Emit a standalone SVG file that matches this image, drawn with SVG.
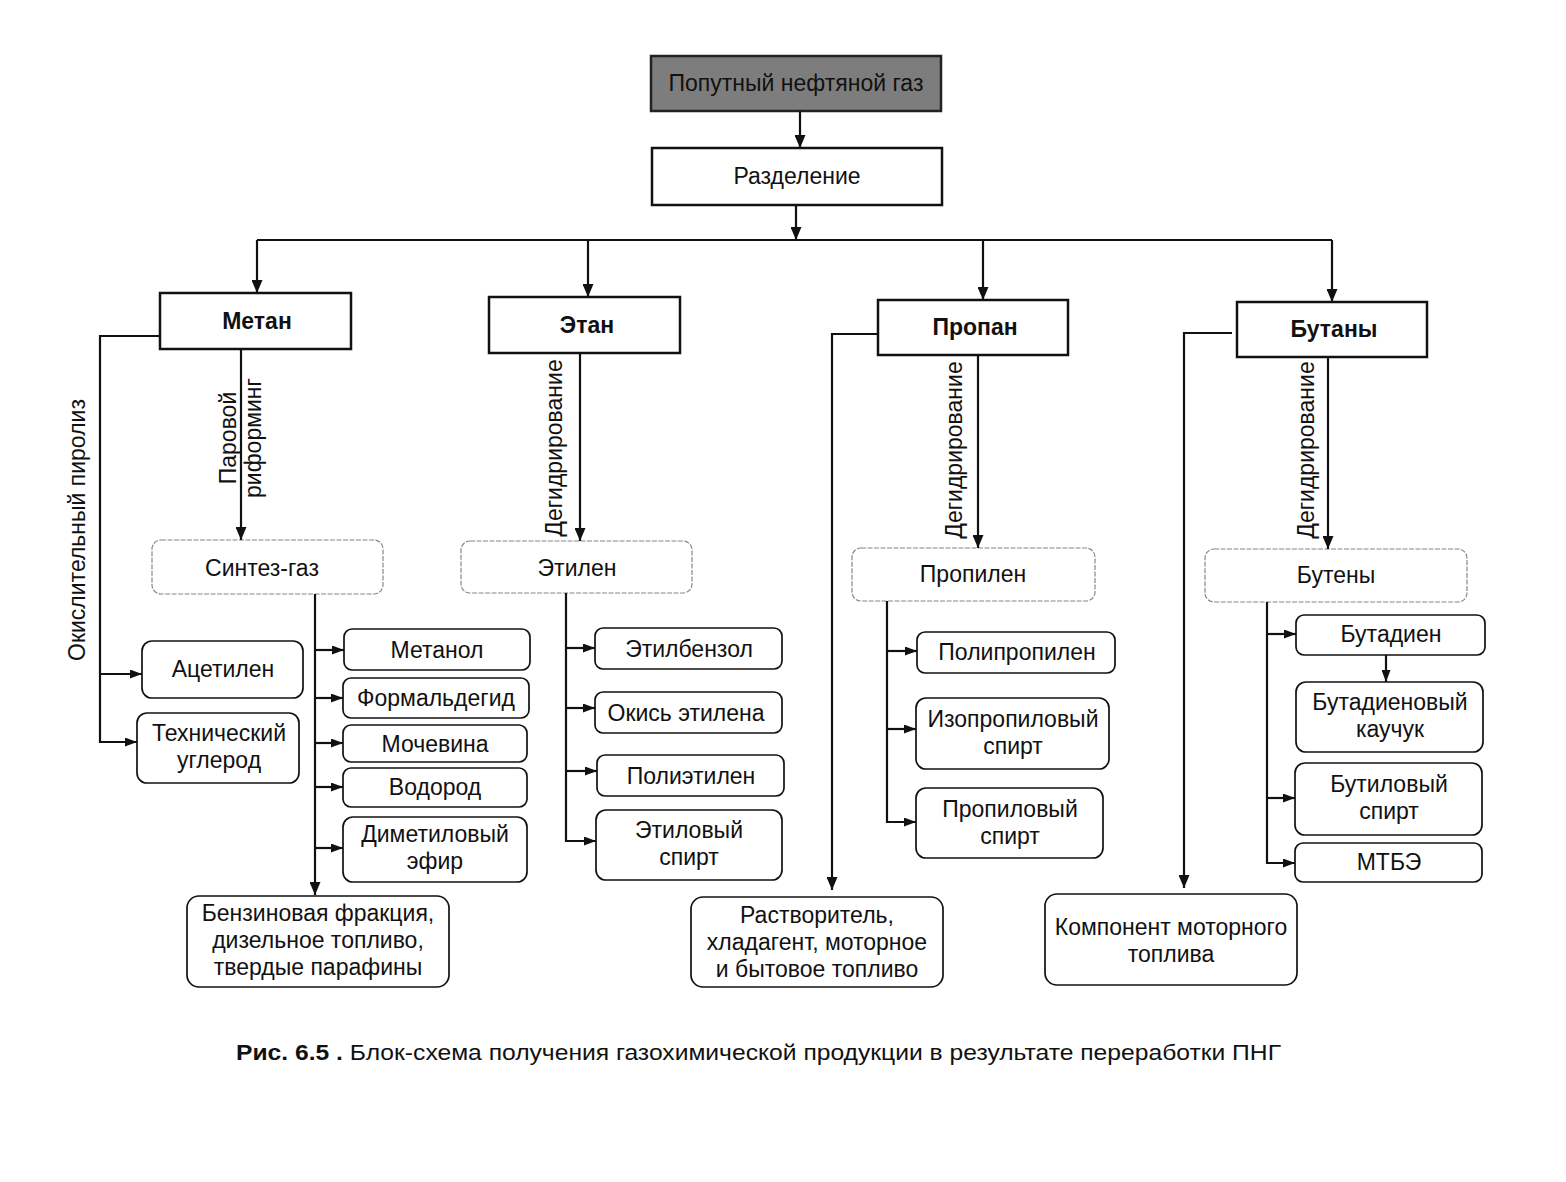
<svg xmlns="http://www.w3.org/2000/svg" width="1566" height="1182" viewBox="0 0 1566 1182">
<defs>
<marker id="ah" markerUnits="userSpaceOnUse" markerWidth="13" markerHeight="11" refX="13" refY="5.5" orient="auto">
<path d="M0,0 L13,5.5 L0,11 z" fill="#111"/>
</marker>
<marker id="ahs" markerUnits="userSpaceOnUse" markerWidth="12" markerHeight="9" refX="12" refY="4.5" orient="auto">
<path d="M0,0 L12,4.5 L0,9 z" fill="#111"/>
</marker>
<style>
text{font-family:"Liberation Sans",Arial,sans-serif;font-size:23px;fill:#111;text-anchor:middle}
.b{font-weight:bold}
.main{fill:#fff;stroke:#111;stroke-width:2.5}
.top{fill:#7d7d7d;stroke:#222;stroke-width:2.5}
.sec{fill:#fff;stroke:#888;stroke-width:1.2;stroke-dasharray:5 1.5}
.ch{fill:#fff;stroke:#111;stroke-width:1.7}
.c path{fill:none;stroke:#111;stroke-width:2.2}
.cap{text-anchor:start;font-size:22px}
</style>
</defs>
<rect width="1566" height="1182" fill="#fff"/>

<g id="n-png"><rect class="top" x="651" y="56" width="290" height="55"/><text x="796" y="91">Попутный нефтяной газ</text></g>
<g id="n-razd"><rect class="main" x="652" y="148" width="290" height="57"/><text x="797" y="184">Разделение</text></g>

<g id="n-metan"><rect class="main" x="160" y="293" width="191" height="56"/><text class="b" x="257" y="329">Метан</text></g>
<g id="n-etan"><rect class="main" x="489" y="297" width="191" height="56"/><text class="b" x="587" y="333">Этан</text></g>
<g id="n-propan"><rect class="main" x="878" y="300" width="190" height="55"/><text class="b" x="975" y="335">Пропан</text></g>
<g id="n-butany"><rect class="main" x="1237" y="302" width="190" height="55"/><text class="b" x="1334" y="337">Бутаны</text></g>

<g id="n-sintez"><rect class="sec" x="152" y="540" width="231" height="54" rx="9"/><text x="262" y="576">Синтез-газ</text></g>
<g id="n-etilen"><rect class="sec" x="461" y="541" width="231" height="52" rx="9"/><text x="577" y="576">Этилен</text></g>
<g id="n-propilen"><rect class="sec" x="852" y="548" width="243" height="53" rx="9"/><text x="973" y="582">Пропилен</text></g>
<g id="n-buteny"><rect class="sec" x="1205" y="549" width="262" height="53" rx="9"/><text x="1336" y="583">Бутены</text></g>

<g id="n-acetilen"><rect class="ch" x="142" y="641" width="161" height="57" rx="10"/><text x="223" y="677">Ацетилен</text></g>
<g id="n-tehugl"><rect class="ch" x="137" y="713" width="162" height="70" rx="10"/><text x="219" y="741">Технический</text><text x="219" y="768">углерод</text></g>
<g id="n-metanol"><rect class="ch" x="344" y="629" width="186" height="41" rx="8"/><text x="437" y="658">Метанол</text></g>
<g id="n-formald"><rect class="ch" x="343" y="678" width="186" height="40" rx="8"/><text x="436" y="706">Формальдегид</text></g>
<g id="n-mochevina"><rect class="ch" x="343" y="725" width="184" height="37" rx="8"/><text x="435" y="752">Мочевина</text></g>
<g id="n-vodorod"><rect class="ch" x="343" y="768" width="184" height="39" rx="8"/><text x="435" y="795">Водород</text></g>
<g id="n-dme"><rect class="ch" x="343" y="817" width="184" height="65" rx="10"/><text x="435" y="842">Диметиловый</text><text x="435" y="869">эфир</text></g>
<g id="n-benzin"><rect class="ch" x="187" y="896" width="262" height="91" rx="12"/><text x="318" y="921">Бензиновая фракция,</text><text x="318" y="948">дизельное топливо,</text><text x="318" y="975">твердые парафины</text></g>

<g id="n-etilbenzol"><rect class="ch" x="595" y="628" width="187" height="41" rx="8"/><text x="689" y="657">Этилбензол</text></g>
<g id="n-okis"><rect class="ch" x="595" y="692" width="187" height="41" rx="8"/><text x="686" y="721">Окись этилена</text></g>
<g id="n-polietilen"><rect class="ch" x="597" y="755" width="187" height="41" rx="8"/><text x="691" y="784">Полиэтилен</text></g>
<g id="n-etilspirt"><rect class="ch" x="596" y="810" width="186" height="70" rx="10"/><text x="689" y="838">Этиловый</text><text x="689" y="865">спирт</text></g>

<g id="n-polipropilen"><rect class="ch" x="917" y="632" width="198" height="41" rx="8"/><text x="1017" y="660">Полипропилен</text></g>
<g id="n-izoprop"><rect class="ch" x="916" y="698" width="193" height="71" rx="10"/><text x="1013" y="727">Изопропиловый</text><text x="1013" y="754">спирт</text></g>
<g id="n-propspirt"><rect class="ch" x="916" y="788" width="187" height="70" rx="10"/><text x="1010" y="817">Пропиловый</text><text x="1010" y="844">спирт</text></g>
<g id="n-rastv"><rect class="ch" x="691" y="897" width="252" height="90" rx="12"/><text x="817" y="923">Растворитель,</text><text x="817" y="950">хладагент, моторное</text><text x="817" y="977">и бытовое топливо</text></g>

<g id="n-butadien"><rect class="ch" x="1296" y="615" width="189" height="40" rx="8"/><text x="1391" y="642">Бутадиен</text></g>
<g id="n-kauchuk"><rect class="ch" x="1296" y="682" width="187" height="70" rx="10"/><text x="1390" y="710">Бутадиеновый</text><text x="1390" y="737">каучук</text></g>
<g id="n-butspirt"><rect class="ch" x="1295" y="763" width="187" height="72" rx="10"/><text x="1389" y="792">Бутиловый</text><text x="1389" y="819">спирт</text></g>
<g id="n-mtbe"><rect class="ch" x="1295" y="843" width="187" height="39" rx="8"/><text x="1389" y="870">МТБЭ</text></g>
<g id="n-komponent"><rect class="ch" x="1045" y="894" width="252" height="91" rx="12"/><text x="1171" y="935">Компонент моторного</text><text x="1171" y="962">топлива</text></g>

<g class="c" id="connectors">
<path d="M800,111 V148" marker-end="url(#ah)"/>
<path d="M796,205 V240" marker-end="url(#ah)"/>
<path d="M257,240 H1332"/>
<path d="M257,240 V293" marker-end="url(#ah)"/>
<path d="M588,240 V297" marker-end="url(#ah)"/>
<path d="M983,240 V300" marker-end="url(#ah)"/>
<path d="M1332,240 V302" marker-end="url(#ah)"/>

<path d="M160,336 H100 V742 H137" marker-end="url(#ahs)"/>
<path d="M100,674 H142" marker-end="url(#ahs)"/>
<path d="M241,349 V540" marker-end="url(#ah)"/>
<path d="M315,594 V895" marker-end="url(#ah)"/>
<path d="M315,650 H344" marker-end="url(#ahs)"/>
<path d="M315,698 H343" marker-end="url(#ahs)"/>
<path d="M315,743 H343" marker-end="url(#ahs)"/>
<path d="M315,787 H343" marker-end="url(#ahs)"/>
<path d="M315,848 H343" marker-end="url(#ahs)"/>

<path d="M580,353 V541" marker-end="url(#ah)"/>
<path d="M566,593 V841 H596" marker-end="url(#ahs)"/>
<path d="M566,648 H595" marker-end="url(#ahs)"/>
<path d="M566,708 H595" marker-end="url(#ahs)"/>
<path d="M566,771 H597" marker-end="url(#ahs)"/>

<path d="M878,334 H832 V890" marker-end="url(#ah)"/>
<path d="M978,355 V548" marker-end="url(#ah)"/>
<path d="M887,601 V822 H916" marker-end="url(#ahs)"/>
<path d="M887,651 H917" marker-end="url(#ahs)"/>
<path d="M887,729 H916" marker-end="url(#ahs)"/>

<path d="M1232,333 H1184 V888" marker-end="url(#ah)"/>
<path d="M1328,357 V549" marker-end="url(#ah)"/>
<path d="M1267,602 V863 H1295" marker-end="url(#ahs)"/>
<path d="M1267,634 H1296" marker-end="url(#ahs)"/>
<path d="M1267,798 H1295" marker-end="url(#ahs)"/>
<path d="M1386,655 V682" marker-end="url(#ahs)"/>
</g>

<g id="labels">
<text transform="translate(85,530) rotate(-90)">Окислительный пиролиз</text>
<text transform="translate(236,438) rotate(-90)">Паровой</text>
<text transform="translate(261,438) rotate(-90)">риформинг</text>
<text transform="translate(562,448) rotate(-90)">Дегидрирование</text>
<text transform="translate(962,450) rotate(-90)">Дегидрирование</text>
<text transform="translate(1314,450) rotate(-90)">Дегидрирование</text>
</g>

<text class="cap" x="236" y="1060" textLength="1045" lengthAdjust="spacingAndGlyphs"><tspan class="b">Рис. 6.5 .</tspan> Блок-схема получения газохимической продукции в результате переработки ПНГ</text>
</svg>
